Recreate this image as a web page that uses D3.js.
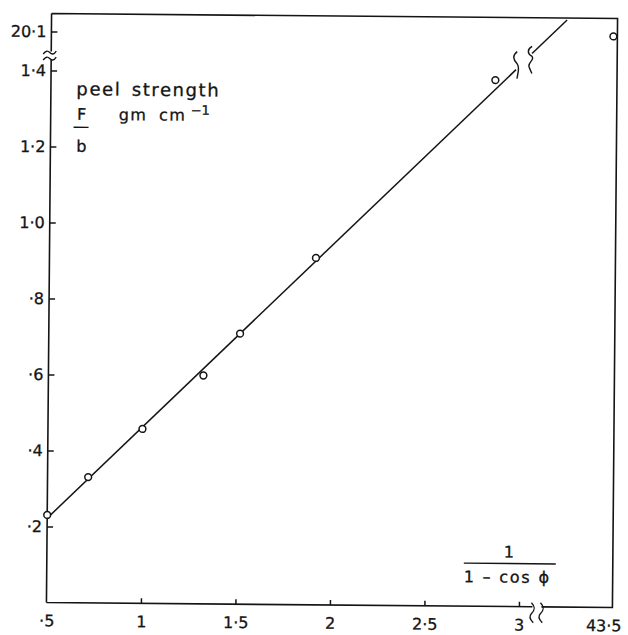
<!DOCTYPE html>
<html>
<head>
<meta charset="utf-8">
<script src="https://cdn.jsdelivr.net/npm/d3@7"></script>
<style>
  html, body { margin: 0; padding: 0; background: #fff; }
  svg { display: block; }
</style>
</head>
<body>
<script>
// Peel strength F/b against 1/(1 - cos φ)
const xValues      = [0.5, 0.715, 1.0, 1.32, 1.512, 1.91, 2.851, 43.5];
const peelStrength = [0.2305, 0.331, 0.459, 0.601, 0.712, 0.913, 1.385, 20.1];

// straight-line fit, drawn in two pieces either side of the break
const fitLower = [[0.5, 0.222], [2.96, 1.413]];
const fitUpper = [[3.044, 1.456], [3.228, 1.545]];

const xTickValues = [0.5, 1, 1.5, 2, 2.5, 3, 43.5];
const xTickLabels = ["·5", "1", "1·5", "2", "2·5", "3", "43·5"];
const yTickValues = [0.2, 0.4, 0.6, 0.8, 1.0, 1.2, 1.4, 20.1];
const yTickLabels = ["·2", "·4", "·6", "·8", "1·0", "1·2", "1·4", "20·1"];

const W = 628, H = 635;
const L = 49, R = 615, T = 16, B = 605;
const ink = "#141414";
const font = "DejaVu Sans, Liberation Sans, sans-serif";

// broken scales: the last domain stop sits beyond the axis break
const x = d3.scaleLinear().domain([0.5, 3, 43.5]).range([L, 521.5, 611]);
const y = d3.scaleLinear().domain([0, 1.4, 20.1]).range([B, 73, 34]);
// unbroken versions, used for the fitted line which carries on past the break
const xFit = d3.scaleLinear().domain([0.5, 3]).range([L, 521.5]);
const yFit = d3.scaleLinear().domain([0, 1.4]).range([B, 73]);

const svg = d3.select("body").append("svg")
  .attr("width", W).attr("height", H);
svg.append("rect").attr("width", W).attr("height", H).attr("fill", "#fff");

// the whole drawing sits slightly askew
const g = svg.append("g").attr("transform", "rotate(0.5, 332, 310)");

const line = d3.line().x(d => xFit(d[0])).y(d => yFit(d[1]));
const stroke = (sel, w) => sel.attr("fill", "none").attr("stroke", ink).attr("stroke-width", w);
const inkText = sel => sel.attr("fill", ink).attr("stroke", ink).attr("stroke-width", 0.3)
  .attr("font-family", font);

// frame: left axis (broken), bottom axis (broken), top and right edges
const brkY0 = 54, brkY1 = 62;
const brkX0 = 535, brkX1 = 544;
stroke(g.append("path").attr("d",
  `M${L},${T}V${brkY0}M${L},${brkY1}V${B}` +
  `M${L},${B}H${brkX0}M${brkX1},${B}H${R}V${T}H${L}`), 1.6);

// tilde marks on the left axis
[brkY0 + 1, brkY1 - 1].forEach(yy => {
  stroke(g.append("path").attr("d",
    `M${L - 8},${yy + 1.5} c2.5,-3.5 4.5,-3.5 6.5,-1.5 s4,2.5 6.5,-1.5`), 1.4);
});
// wavy marks on the bottom axis
[brkX0 - 1, brkX1 - 1].forEach(xx => {
  stroke(g.append("path").attr("d",
    `M${xx},${B - 4} C${xx + 4},${B} ${xx + 4},${B + 3} ${xx},${B + 7} ` +
    `C${xx - 3},${B + 10} ${xx - 1},${B + 13} ${xx + 2},${B + 16}`), 1.4);
});

// axes: inward ticks, labels only
const yAxis = d3.axisLeft(y).tickValues(yTickValues)
  .tickFormat((d, i) => yTickLabels[i]).tickSizeInner(-6).tickSizeOuter(0).tickPadding(5);
const ya = g.append("g").attr("transform", `translate(${L},0)`).call(yAxis);
ya.select(".domain").remove();
ya.selectAll("line").attr("stroke", ink).attr("stroke-width", 1.5);
ya.selectAll("text").call(inkText).attr("font-size", 16);

const xAxis = d3.axisBottom(x).tickValues(xTickValues)
  .tickFormat((d, i) => xTickLabels[i]).tickSizeInner(-5).tickSizeOuter(0).tickPadding(12.5);
const xa = g.append("g").attr("transform", `translate(0,${B})`).call(xAxis);
xa.select(".domain").remove();
xa.selectAll("line").attr("stroke", ink).attr("stroke-width", 1.5)
  .attr("display", d => (d === 0.5 || d === 43.5) ? "none" : null);
xa.selectAll("text").call(inkText).attr("font-size", 16)
  .attr("dx", d => d === 43.5 ? -5 : 0);

// fitted line with its break marks
stroke(g.append("path").attr("d", line(fitLower)), 1.5);
stroke(g.append("path").attr("d", line(fitUpper)), 1.5);
{
  const ex = xFit(fitLower[1][0]), ey = yFit(fitLower[1][1]);
  stroke(g.append("path").attr("d",
    `M${ex + 1},${ey - 18} C${ex - 4},${ey - 14} ${ex - 3},${ey - 10} ${ex + 1},${ey - 6} ` +
    `C${ex + 4},${ey - 2} ${ex + 2},${ey + 2} ${ex + 1},${ey + 9}`), 1.4);
  const sx = xFit(fitUpper[0][0]), sy = yFit(fitUpper[0][1]);
  stroke(g.append("path").attr("d",
    `M${sx},${sy - 7} C${sx - 5},${sy - 4} ${sx - 5},${sy} ${sx},${sy + 3} ` +
    `C${sx + 3},${sy + 6} ${sx - 4},${sy + 9} ${sx - 3},${sy + 13} ` +
    `C${sx - 2},${sy + 16} ${sx - 1},${sy + 18} ${sx},${sy + 20}`), 1.4);
}

// measured points
g.selectAll("circle.pt").data(xValues.map((v, i) => [v, peelStrength[i]]))
  .enter().append("circle").attr("class", "pt")
  .attr("cx", d => x(d[0])).attr("cy", d => y(d[1])).attr("r", 3.4)
  .attr("fill", "#fff").attr("stroke", ink).attr("stroke-width", 1.5);

// text helper
const t = (xx, yy, s, size, extra) => {
  const e = g.append("text").attr("x", xx).attr("y", yy).text(s)
    .call(inkText).attr("font-size", size);
  if (extra) extra(e);
  return e;
};

// y-axis title
t(74.5, 97.5, "peel strength", 18, e => e.attr("letter-spacing", 1.6).attr("word-spacing", 3));
t(80, 122, "F", 16, e => e.attr("text-anchor", "middle"));
g.append("line").attr("x1", 72).attr("x2", 87).attr("y1", 129.5).attr("y2", 129.5)
  .attr("stroke", ink).attr("stroke-width", 1.4);
t(80, 154, "b", 16, e => e.attr("text-anchor", "middle"));
t(117, 122, "gm cm", 16, e => e.attr("letter-spacing", 1.5).attr("word-spacing", 5));
t(189, 116, "−1", 13);

// x-axis title
t(511, 556, "1", 16, e => e.attr("text-anchor", "middle"));
g.append("line").attr("x1", 466).attr("x2", 558).attr("y1", 562).attr("y2", 562)
  .attr("stroke", ink).attr("stroke-width", 1.4);
t(466, 581, "1 – cos ϕ", 16, e => e.attr("letter-spacing", 1.8));
</script>
</body>
</html>
